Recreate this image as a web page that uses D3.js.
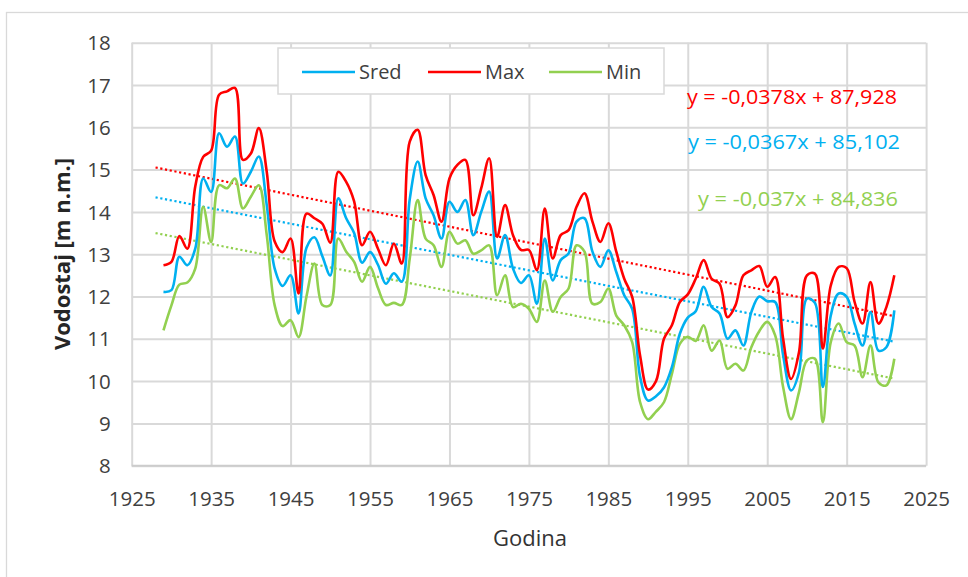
<!DOCTYPE html>
<html>
<head>
<meta charset="utf-8">
<script src="https://cdn.jsdelivr.net/npm/d3@7"></script>
<style>
  body { margin: 0; background: #fff; }
  svg { display: block; }
  text { font-family: "Open Sans", sans-serif; }
</style>
</head>
<body>
<svg id="chart" width="968" height="577"></svg>
<script>
// Annual water levels (m n.m.), 1929–2021
const firstYear = 1929;
const lastYear = 2021;

const sred = [
  12.11, 12.15, 12.94, 12.74, 13.13, 14.79, 14.47, 15.86, 15.54, 15.78, 14.67, 14.95, 15.31, 14.16, 12.66,
  12.25, 12.5, 11.6, 13.15, 13.4, 12.95, 12.5, 14.32, 13.85, 13.5, 12.8, 13.05, 12.75, 12.3, 12.55, 12.35,
  14.3, 15.19, 14.32, 13.92, 13.37, 14.24, 14.0, 14.28, 13.45, 14.0, 14.48, 12.9, 13.45, 12.66, 12.32,
  12.5, 11.83, 13.37, 12.38, 12.86, 13.02, 13.77, 13.85, 13.06, 12.7, 13.09, 12.58, 12.03, 11.71, 10.1,
  9.54, 9.64, 9.85, 10.33, 11.12, 11.5, 11.65, 12.23, 11.75, 11.6, 11.0, 11.2, 10.84, 11.63, 12.0,
  11.89, 11.87, 10.61, 9.78, 10.21, 11.95, 11.85, 9.86, 11.55, 12.07, 11.99, 11.36, 10.84, 11.63, 10.72, 10.8, 11.67
];

const maxLevel = [
  12.74, 12.82, 13.43, 13.13, 14.6, 15.3, 15.45, 16.77, 16.85, 16.93, 15.23, 15.38, 15.98, 14.95, 13.3,
  13.05, 13.37, 12.07, 13.96, 13.85, 13.72, 13.27, 14.95, 14.71, 14.25, 13.21, 13.53, 13.13, 12.74, 13.25, 12.78,
  15.66, 15.94, 14.87, 14.4, 13.77, 14.79, 15.11, 15.23, 13.92, 14.56, 15.27, 13.41, 14.16, 13.45, 13.1,
  13.1, 12.62, 14.08, 12.9, 13.45, 13.57, 14.12, 14.44, 13.77, 13.29, 13.73, 13.06, 12.42, 11.99, 10.6,
  9.8, 10.0, 11.0, 11.32, 11.87, 12.05, 12.42, 12.86, 12.42, 12.3, 11.51, 11.79, 12.5, 12.62, 12.72,
  12.23, 12.46, 11.0, 10.05, 10.68, 12.5, 12.54, 10.77, 12.26, 12.7, 12.67, 11.87, 11.36, 12.34, 11.36, 11.75, 12.5
];

const minLevel = [
  11.2, 11.79, 12.28, 12.33, 12.66, 14.12, 13.29, 14.63, 14.56, 14.79, 14.08, 14.36, 14.63, 13.45, 11.79,
  11.3, 11.44, 11.04, 12.0, 12.78, 11.8, 11.8, 13.37, 13.06, 12.82, 12.35, 12.7, 12.2, 11.8, 11.85, 11.8,
  12.9, 14.28, 13.37, 13.21, 12.7, 13.53, 13.25, 13.33, 13.01, 13.09, 13.21, 12.03, 12.5, 11.75, 11.83,
  11.71, 11.4, 12.38, 11.64, 11.99, 12.19, 13.21, 13.06, 11.83, 11.87, 12.19, 11.55, 11.32, 10.92, 9.5,
  9.1, 9.28, 9.5, 10.17, 10.88, 11.05, 10.95, 11.32, 10.72, 10.96, 10.29, 10.41, 10.25, 10.8, 11.18,
  11.4, 11.08, 9.86, 9.1, 9.74, 10.49, 10.53, 9.03, 10.92, 11.36, 10.92, 10.84, 10.09, 10.84, 9.97, 9.9, 10.53
];

// Linear trends (slope, intercept) and their printed equations
const trendNames = ["Max", "Sred", "Min"];
const trendSlopes = [-0.0378, -0.0367, -0.037];
const trendIntercepts = [87.928, 85.102, 84.836];
const trendLabels = ["y = -0,0378x + 87,928", "y = -0,0367x + 85,102", "y = -0,037x + 84,836"];
const trendStart = 1928;

const seriesNames = ["Sred", "Max", "Min"];
const seriesColors = { Sred: "#00b0f0", Max: "#ff0000", Min: "#92d050" };

const xTicks = [1925, 1935, 1945, 1955, 1965, 1975, 1985, 1995, 2005, 2015, 2025];
const yTicks = [8, 9, 10, 11, 12, 13, 14, 15, 16, 17, 18];

const xTitle = "Godina";
const yTitle = "Vodostaj [m n.m.]";

// ---- drawing ----
const svg = d3.select("#chart");
const plotLeft = 131.7, plotRight = 926.1, plotTop = 42.7, plotBottom = 465.7;

const x = d3.scaleLinear().domain([1925, 2025]).range([plotLeft, plotRight]);
const y = d3.scaleLinear().domain([8, 18]).range([plotBottom, plotTop]);

// outer chart frame
svg.append("rect")
  .attr("x", 6.5).attr("y", 12.5)
  .attr("width", 968).attr("height", 570)
  .attr("fill", "#fff").attr("stroke", "#d9d9d9").attr("stroke-width", 1.3);

// y axis with horizontal gridlines
const yAxis = svg.append("g")
  .attr("transform", `translate(${plotLeft},0)`)
  .call(d3.axisLeft(y).tickValues(yTicks).tickSize(-(plotRight - plotLeft)).tickPadding(21).tickFormat(d3.format("d")));
yAxis.select(".domain").remove();
yAxis.selectAll(".tick line").attr("stroke", "#d9d9d9").attr("stroke-width", 2);
yAxis.selectAll(".tick text")
  .attr("fill", "#404040").style("font-size", "20.5px").attr("dy", "0.35em");

// x axis with vertical gridlines
const xAxis = svg.append("g")
  .attr("transform", `translate(0,${plotBottom})`)
  .call(d3.axisBottom(x).tickValues(xTicks).tickSize(-(plotBottom - plotTop)).tickPadding(26).tickFormat(d3.format("d")));
xAxis.select(".domain").remove();
xAxis.selectAll(".tick line").attr("stroke", "#d9d9d9").attr("stroke-width", 2);
xAxis.selectAll(".tick text")
  .attr("fill", "#404040").style("font-size", "20.5px");

// bottom axis line
svg.append("line")
  .attr("x1", plotLeft).attr("x2", plotRight).attr("y1", plotBottom).attr("y2", plotBottom)
  .attr("stroke", "#cccccc").attr("stroke-width", 2);

// axis titles
svg.append("text")
  .attr("x", 530).attr("y", 546)
  .attr("text-anchor", "middle")
  .attr("fill", "#333")
  .style("font-size", "22px")
  .text(xTitle);

svg.append("text")
  .attr("transform", "translate(70,254) rotate(-90)")
  .attr("text-anchor", "middle")
  .attr("fill", "#262626")
  .style("font-size", "22px")
  .style("font-weight", "bold")
  .text(yTitle);

// trend lines (dotted)
const trendGroup = svg.append("g");
trendNames.forEach((name, i) => {
  const f = yr => trendSlopes[i] * yr + trendIntercepts[i];
  trendGroup.append("line")
    .attr("x1", x(trendStart)).attr("y1", y(f(trendStart)))
    .attr("x2", x(lastYear)).attr("y2", y(f(lastYear)))
    .attr("stroke", seriesColors[name])
    .attr("stroke-width", 2.2)
    .attr("stroke-dasharray", "2.2,2.6");
});

// smoothed series lines
const yearsArr = d3.range(firstYear, lastYear + 1);
const seriesData = { Sred: sred, Max: maxLevel, Min: minLevel };
const line = d3.line()
  .x((d, i) => x(yearsArr[i]))
  .y(d => y(d))
  .curve(d3.curveCatmullRom.alpha(0.5));

["Min", "Sred", "Max"].forEach(name => {
  svg.append("path")
    .datum(seriesData[name])
    .attr("d", line)
    .attr("fill", "none")
    .attr("stroke", seriesColors[name])
    .attr("stroke-width", 2.6)
    .attr("stroke-linejoin", "round");
});

// trend equations
const eqPos = [
  { x: 687, y: 104, w: 210 },
  { x: 688, y: 149, w: 212 },
  { x: 698, y: 206, w: 200 }
];
trendNames.forEach((name, i) => {
  svg.append("text")
    .attr("x", eqPos[i].x).attr("y", eqPos[i].y)
    .attr("textLength", eqPos[i].w)
    .attr("lengthAdjust", "spacingAndGlyphs")
    .attr("fill", seriesColors[name])
    .style("font-size", "20px")
    .text(trendLabels[i]);
});

// legend
const legend = svg.append("g");
legend.append("rect")
  .attr("x", 278).attr("y", 48).attr("width", 386).attr("height", 46)
  .attr("fill", "#fff").attr("stroke", "#d9d9d9").attr("stroke-width", 1.5);
const legendX = [302, 428, 549];
seriesNames.forEach((name, i) => {
  legend.append("line")
    .attr("x1", legendX[i]).attr("x2", legendX[i] + 53)
    .attr("y1", 72).attr("y2", 72)
    .attr("stroke", seriesColors[name]).attr("stroke-width", 2.6);
  legend.append("text")
    .attr("x", legendX[i] + 57).attr("y", 72).attr("dy", "0.35em")
    .attr("fill", "#404040")
    .style("font-size", "20px")
    .text(name);
});
</script>
</body>
</html>
